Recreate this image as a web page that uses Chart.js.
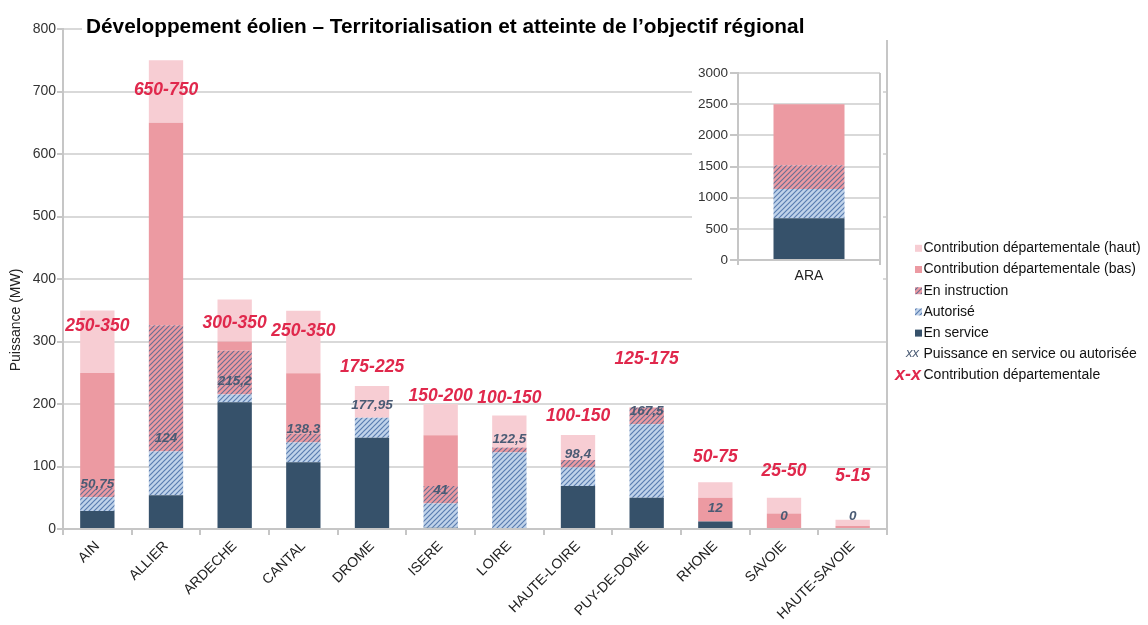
<!DOCTYPE html>
<html><head><meta charset="utf-8">
<script src="https://cdn.jsdelivr.net/npm/chart.js@4.4.1/dist/chart.umd.min.js"></script>
<style>
html,body{margin:0;padding:0;background:#fff;}
#wrap{position:relative;width:1148px;height:625px;overflow:hidden;background:#fff;}
#main{position:absolute;left:0;top:0;}
#inset{position:absolute;left:692px;top:55px;background:#fff;}
</style></head><body>
<div id="wrap"><canvas id="main" width="1148" height="625"></canvas><canvas id="inset" width="191" height="237"></canvas></div>
<script>
// ---------- DATA ----------
const categories = ['AIN','ALLIER','ARDECHE','CANTAL','DROME','ISERE','LOIRE','HAUTE-LOIRE','PUY-DE-DOME','RHONE','SAVOIE','HAUTE-SAVOIE'];
const enService     = [29, 54, 203, 107, 146, 2, 0, 69, 50, 12, 0, 0];
const autorise      = [21.75, 70, 12.2, 31.3, 31.95, 39, 122.5, 29.4, 117.5, 0, 0, 0];
const enInstruction = [15, 202, 70, 14, 0, 28, 8, 12, 27, 0, 0, 0];
const contribBas    = [184, 324, 15, 97, 0, 81, 0, 0, 0, 38, 25, 5];
const contribHaut   = [100, 100, 67, 100, 51, 50, 51, 40, 0, 25, 25, 10];
const puissanceLabels = [50.75, 124, 215.2, 138.3, 177.95, 41, 122.5, 98.4, 167.5, 12, 0, 0];
const contribLabels = ['250-350','650-750','300-350','250-350','175-225','150-200','100-150','100-150','125-175','50-75','25-50','5-15'];
const contribLabelAnchor = [324, 702, 330, 316, 259, 212, 210, 181, 271, 115, 92, 85];
const yMin = 0, yMax = 800, yStep = 100;

const araCategories = ['ARA'];
const araService     = [670];
const araAutorise    = [471];
const araInstruction = [380];
const araBas         = [979];
const araHaut        = [0];
const araMin = 0, araMax = 3000, araStep = 500;

const legendItems = ['Contribution départementale (haut)','Contribution départementale (bas)','En instruction','Autorisé','En service','Puissance en service ou autorisée','Contribution départementale'];
const titleText = 'Développement éolien – Territorialisation et atteinte de l’objectif régional';
const yTitleText = 'Puissance (MW)';

// ---------- STYLE ----------
const C_SERVICE = '#36516a';
const C_BAS = '#ec9aa2';
const C_HAUT = '#f7cdd3';
const C_RED = '#e0284c';
const C_VAL = '#4a5b74';
const C_GRID = '#d9d9d9';
const C_AXIS = '#c6c6c6';
const FONT = '"Liberation Sans", Arial, sans-serif';

function hatch(base, stripe){
  const c = document.createElement('canvas'); c.width = c.height = 5;
  const g = c.getContext('2d');
  g.fillStyle = base; g.fillRect(0,0,5,5);
  g.strokeStyle = stripe; g.lineWidth = 1.2;
  g.beginPath();
  g.moveTo(0,5); g.lineTo(5,0);
  g.moveTo(-1,1); g.lineTo(1,-1);
  g.moveTo(4,6); g.lineTo(6,4);
  g.stroke();
  return g.createPattern(c,'repeat');
}
const P_AUT = hatch('#c0d3ea', '#5a7db0');
const P_INS = hatch('#ec9aa2', '#6a6f93');

Chart.defaults.font.family = FONT;
Chart.defaults.color = '#222';

function ds(label, data, color){
  return {label, data, backgroundColor: color, borderWidth: 0, stack: 's', barPercentage: 0.5, categoryPercentage: 1};
}

const fmt = v => String(v).replace('.', ',');

const mainPlugin = {
  id: 'mainOverlay',
  afterDatasetsDraw(chart){
    const ctx = chart.ctx, x = chart.scales.x, y = chart.scales.y;
    ctx.save();
    ctx.textAlign = 'center'; ctx.textBaseline = 'middle';
    categories.forEach((c,i)=>{
      const cx = x.getPixelForValue(i);
      ctx.font = 'italic bold 13.5px ' + FONT;
      ctx.fillStyle = C_VAL;
      ctx.fillText(fmt(puissanceLabels[i]), cx, y.getPixelForValue(puissanceLabels[i]) - 13);
      ctx.font = 'italic bold 17.5px ' + FONT;
      ctx.fillStyle = C_RED;
      ctx.fillText(contribLabels[i], cx, y.getPixelForValue(contribLabelAnchor[i]));
    });
    ctx.restore();
  },
  afterDraw(chart){
    const ctx = chart.ctx, area = chart.chartArea;
    ctx.save();
    // right border
    ctx.strokeStyle = C_AXIS; ctx.lineWidth = 2;
    ctx.beginPath(); ctx.moveTo(area.right, area.top); ctx.lineTo(area.right, area.bottom + 6); ctx.stroke();
    // title
    ctx.fillStyle = '#fff'; ctx.fillRect(82, 12, 810, 28);
    ctx.fillStyle = '#000'; ctx.font = 'bold 20.8px ' + FONT;
    ctx.textAlign = 'left'; ctx.textBaseline = 'alphabetic';
    ctx.fillText(titleText, 86, 33);
    // y title
    ctx.save();
    ctx.translate(16, 320); ctx.rotate(-Math.PI/2);
    ctx.font = '14px ' + FONT; ctx.fillStyle = '#222'; ctx.textAlign = 'center'; ctx.textBaseline = 'middle';
    ctx.fillText(yTitleText, 0, 0);
    ctx.restore();
    // legend
    const x0 = 923.5, yy = 248.3, dy = 21.2;
    const fills = [C_HAUT, C_BAS, P_INS, P_AUT, C_SERVICE];
    ctx.textBaseline = 'middle'; ctx.textAlign = 'left';
    legendItems.forEach((t,k)=>{
      const cy = yy + dy*k;
      if (k < 5){
        ctx.fillStyle = fills[k];
        ctx.fillRect(915, cy - 3.5, 7, 7);
      } else if (k === 5){
        ctx.font = 'italic 13px ' + FONT; ctx.fillStyle = C_VAL; ctx.textAlign = 'right';
        ctx.fillText('xx', 919, cy - 1);
      } else {
        ctx.font = 'italic bold 18px ' + FONT; ctx.fillStyle = C_RED; ctx.textAlign = 'right';
        ctx.fillText('x-x', 921, cy);
      }
      ctx.textAlign = 'left';
      ctx.font = '14px ' + FONT; ctx.fillStyle = '#111';
      ctx.fillText(t, x0, cy);
    });
    ctx.restore();
  }
};

new Chart(document.getElementById('main'), {
  type: 'bar',
  data: {
    labels: categories,
    datasets: [
      ds('En service', enService, C_SERVICE),
      ds('Autorisé', autorise, P_AUT),
      ds('En instruction', enInstruction, P_INS),
      ds('Contribution départementale (bas)', contribBas, C_BAS),
      ds('Contribution départementale (haut)', contribHaut, C_HAUT)
    ]
  },
  options: {
    responsive: false, animation: false, devicePixelRatio: 1,
    layout: {padding: {left: 0, top: 29, right: 261, bottom: 0}},
    plugins: {legend: {display: false}, tooltip: {enabled: false}, title: {display: false}},
    scales: {
      x: {
        stacked: true,
        grid: {offset: true, drawOnChartArea: false, drawTicks: true, tickLength: 6, color: C_AXIS, lineWidth: 2},
        border: {color: C_AXIS, width: 2},
        ticks: {minRotation: 45, maxRotation: 45, autoSkip: false, font: {size: 14}, color: '#222', padding: 3},
        afterFit(s){ s.height = 96; }
      },
      y: {
        stacked: true, min: yMin, max: yMax,
        grid: {color: C_GRID, lineWidth: 2, tickLength: 6, tickColor: C_AXIS},
        border: {color: C_AXIS, width: 2},
        ticks: {stepSize: yStep, font: {size: 14}, color: '#333', padding: 1, callback: v => String(v)},
        afterFit(s){ s.width = 63; }
      }
    }
  },
  plugins: [mainPlugin]
});

const insetPlugin = {
  id: 'insetOverlay',
  afterDraw(chart){
    const ctx = chart.ctx, area = chart.chartArea;
    ctx.save();
    ctx.strokeStyle = C_AXIS; ctx.lineWidth = 2;
    ctx.beginPath(); ctx.moveTo(area.right, area.top); ctx.lineTo(area.right, area.bottom + 5); ctx.stroke();
    ctx.restore();
  }
};

new Chart(document.getElementById('inset'), {
  type: 'bar',
  data: {
    labels: araCategories,
    datasets: [
      ds('En service', araService, C_SERVICE),
      ds('Autorisé', araAutorise, P_AUT),
      ds('En instruction', araInstruction, P_INS),
      ds('Contribution départementale (bas)', araBas, C_BAS),
      ds('Contribution départementale (haut)', araHaut, C_HAUT)
    ]
  },
  options: {
    responsive: false, animation: false, devicePixelRatio: 1,
    layout: {padding: {left: 0, top: 18, right: 3, bottom: 0}},
    plugins: {legend: {display: false}, tooltip: {enabled: false}},
    scales: {
      x: {
        stacked: true,
        grid: {offset: true, drawOnChartArea: false, tickLength: 5, color: C_AXIS, lineWidth: 2},
        border: {color: C_AXIS, width: 2},
        ticks: {font: {size: 14}, color: '#222', padding: 3, maxRotation: 0},
        afterFit(s){ s.height = 32; }
      },
      y: {
        stacked: true, min: araMin, max: araMax,
        grid: {color: C_GRID, lineWidth: 2, tickLength: 8, tickColor: C_AXIS},
        border: {color: C_AXIS, width: 2},
        ticks: {stepSize: araStep, font: {size: 13.5}, color: '#333', padding: 2, callback: v => String(v)},
        afterFit(s){ s.width = 46; }
      }
    }
  },
  plugins: [insetPlugin]
});
</script>
</body></html>
